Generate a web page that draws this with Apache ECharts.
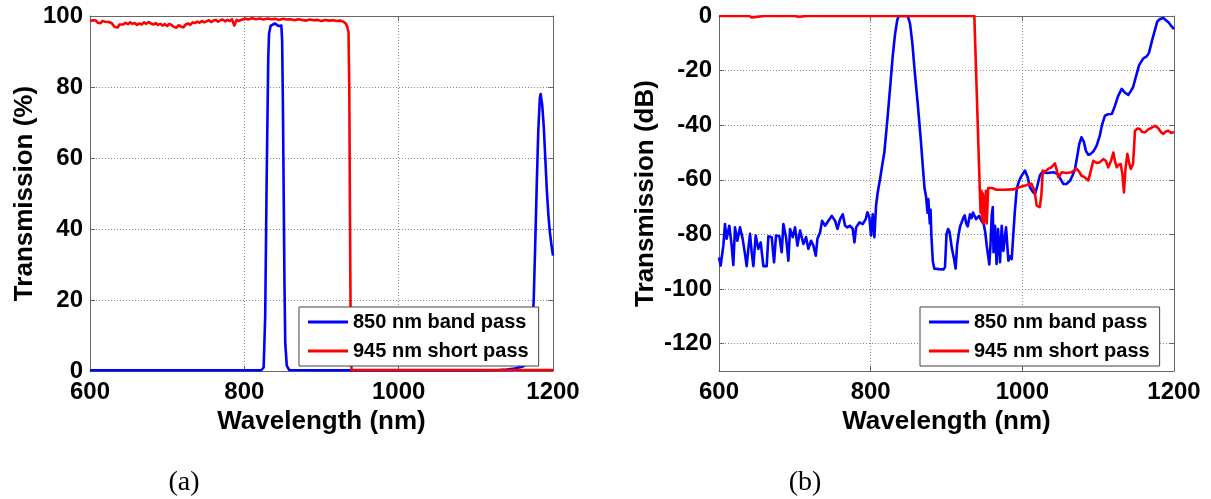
<!DOCTYPE html>
<html>
<head>
<meta charset="utf-8">
<script src="https://cdn.jsdelivr.net/npm/echarts@6/dist/echarts.min.js"></script>
<style>
  html, body { margin: 0; padding: 0; background: #fff; }
  #chart { width: 1211px; height: 499px; }
</style>
</head>
<body>
<div id="chart"></div>
<script>
// ---- data -------------------------------------------------------------
const seriesNames = ['850 nm band pass', '945 nm short pass'];
const panelLabels = ['(a)', '(b)'];
const xTitle = 'Wavelength (nm)';
const yTitles = ['Transmission (%)', 'Transmission (dB)'];
const wavelengthTicks = [600, 800, 1000, 1200];
const percentTicks = [0, 20, 40, 60, 80, 100];
const dbRange = [-130, 0];

// 850 nm band-pass filter, linear transmission [nm, %]
const bandPassPct = [
  [600,0.2],[700,0.2],[800,0.2],[822,0.2],[825,1],[827,15],[829,55],[831,88],[832,95],
  [834,97.2],[837,97.6],[840,97.9],[842,97.4],[844,97.2],[846,97.6],[848,97.3],[849,93],
  [850,75],[851,50],[852,25],[853,8],[855,1.5],[858,0.3],[900,0.2],[1000,0.2],[1100,0.2],
  [1130,0.3],[1140,0.4],[1150,0.7],[1160,1.2],[1165,1.8],[1168,2.6],[1170,3.5],[1172,8],
  [1175,20],[1177,36],[1179,53],[1181,68],[1183,77],[1184,78],[1186,75],[1188,69],
  [1190,60],[1192,51],[1194,44],[1196,39],[1198,35.5],[1200,32.5]
];

// 945 nm short-pass filter, linear transmission [nm, %]
const shortPassPct = [
  [600,98.6],[602,98.2],[604,98.8],[606,98.3],[608,98.7],[610,98.1],[612,98.5],[614,98.0],
  [616,98.6],[618,98.2],[620,98.4],[622,97.9],[624,98.3],[626,97.8],[628,98.0],[630,97.5],
  [632,96.9],[634,96.4],[636,96.8],[638,97.6],[640,98.0],[643,97.6],[646,98.1],[649,97.7],
  [652,98.2],[655,97.8],[658,98.0],[661,97.5],[664,97.9],[667,97.6],[670,98.2],[673,97.8],
  [676,98.3],[679,97.9],[682,97.6],[685,98.0],[688,97.5],[691,97.8],[694,97.3],[697,97.7],
  [700,97.2],[703,97.8],[706,97.4],[709,96.9],[712,96.7],[715,97.4],[718,97.0],[721,96.8],
  [724,97.6],[727,97.9],[730,97.5],[733,98.2],[736,98.0],[739,98.4],[742,98.1],[745,98.6],
  [748,98.2],[751,98.5],[754,98.8],[757,98.3],[760,98.7],[763,98.9],[766,98.4],[769,98.8],
  [772,99.0],[775,98.5],[778,98.9],[781,98.6],[784,99.1],[787,97.3],[790,98.9],[793,98.6],
  [796,98.9],[798,99.1],[801,99.3],[805,99.0],[810,99.4],[815,99.1],[820,99.3],[825,99.0],
  [830,99.3],[835,99.1],[840,99.2],[845,98.9],[850,99.2],[855,99.0],[860,99.1],[865,98.8],
  [870,99.1],[875,98.9],[880,98.7],[885,99.0],[890,98.8],[895,98.9],[900,98.6],[905,98.9],
  [910,98.7],[915,98.8],[920,98.6],[925,98.7],[928,98.4],[931,98.0],[933,97.2],[935,95.5],
  [936,80],[937,40],[938,5],[939,0.3],[1200,0.3]
];

// 850 nm band-pass filter, transmission in dB [nm, dB]
const bandPassDb = [
  [600,-88.4],[602.2,-91.4],[605.7,-84.1],[607.9,-76.2],[610.1,-81.6],[613.6,-76.8],
  [616.7,-84.1],[618.9,-91.2],[621.1,-77.4],[624.2,-82.3],[627.7,-77.4],[631.2,-81.6],
  [634.3,-87.2],[636.5,-91.6],[638.7,-85.3],[640.9,-79.8],[643.1,-86.5],[645.3,-91.6],
  [648.4,-80.4],[651.9,-85.3],[655,-82.9],[658.5,-91.6],[662.9,-91.6],[665.1,-80.7],
  [669.5,-81.0],[672.6,-90.2],[675.2,-80.4],[679.6,-80.7],[682.7,-86.5],[684.9,-76.2],
  [688.4,-81.0],[691.5,-89.6],[693.7,-78.0],[697.2,-81.0],[700.3,-77.4],[703.4,-84.1],
  [706.9,-78.6],[711.3,-83.5],[714.8,-81.0],[717.9,-85.3],[721.4,-82.3],[724.5,-84.1],
  [727.6,-87.8],[729.8,-81.6],[733.3,-79.2],[736,-75.0],[739.9,-76.8],[744.3,-75.0],
  [748.7,-73.2],[753.1,-75.0],[756.2,-78.0],[759.7,-74.4],[763.2,-72.6],[766.3,-76.8],
  [769.3,-77.4],[772.9,-76.8],[776.4,-78.0],[778.6,-82.9],[780.8,-77.4],[785.2,-75.6],
  [789.5,-76.2],[793.5,-74.4],[795.7,-71.9],[798.3,-73.7],[800.5,-80.4],[802.7,-72.6],
  [804.9,-81.0],[807.1,-69.4],[809.3,-64.6],[812.4,-59.7],[815,-55],[818,-50],[822,-38],
  [826,-25],[829,-15],[832,-7],[835,-1.5],[837,0],[849,0],[852,-3],[855,-10],[858,-20],
  [862,-32],[866,-45],[869,-56],[871,-63],[873,-66],[875,-72],[876,-67],[878,-76],
  [879,-71],[880,-80],[882,-90],[884,-92.5],[890,-92.7],[896,-92.8],[898,-92],[900,-80],
  [902,-78],[904,-79],[907,-85],[910,-89],[912,-92.5],[914,-84],[916,-80],[918,-77],
  [920,-75.6],[922,-74],[924,-73],[926,-76],[928,-77],[931,-72.6],[933,-74],[935,-72],
  [937,-71.5],[939,-74.4],[941,-74],[943,-73.2],[946,-75],[949,-76.2],[951,-79],[953,-84],
  [955,-88],[956.5,-91],[958,-84],[959.6,-73],[961,-70],[962,-86.5],[964,-76.8],[966,-90.8],
  [968,-78],[970.6,-90.2],[972.8,-76.8],[975,-86],[978.5,-77.4],[981.6,-89.6],[984,-88],
  [986,-89],[988,-80.4],[990,-72],[992.6,-63.3],[995,-61],[998,-59],[1003.5,-56.6],
  [1007,-59],[1010,-62.7],[1014,-64.5],[1016.7,-65.2],[1020,-62],[1023,-58.5],[1026,-57.2],
  [1033,-57.5],[1041,-57.2],[1047,-58],[1051,-60],[1054,-61.5],[1058,-61.5],[1063,-60.3],
  [1066,-58.5],[1069.5,-56],[1072,-52],[1075,-47],[1078,-44.4],[1081,-46],[1084,-49.5],
  [1087,-50.8],[1090,-50.5],[1094,-49.5],[1098,-47.5],[1102,-44],[1105,-40],[1109,-36.5],
  [1113,-36],[1118,-35.9],[1122,-33],[1126,-29.5],[1131,-26.7],[1135,-28],[1139.8,-28.9],
  [1143,-27.5],[1146,-26.1],[1150,-22],[1154,-18],[1159.6,-15.5],[1164,-14.8],[1167,-13.5],
  [1171,-9],[1175,-5],[1178,-2],[1181.6,-1.1],[1184,-0.6],[1186,-0.7],[1189,-1.5],
  [1192.6,-2.3],[1196,-3.5],[1200,-4.8]
];

// 945 nm short-pass filter, transmission in dB [nm, dB]
const shortPassDb = [
  [600,0],[611,0],[612,-0.5],[613,0],[637,0],[638,-0.4],[640,0],[643,-0.5],[645,0],
  [660,0],[661,-0.4],[662,0],[697,0],[698,-0.5],[700,0],[705,-0.3],[707,0],[716,0],
  [717,-0.5],[719,0],[785,0],[786,-0.4],[787,0],[936.7,0],[938,-11.5],[940,-29],[942,-47],
  [944,-64.5],[945,-72],[946,-64],[947,-75],[948,-65],[949,-76],[950,-66],[951,-75],
  [952,-64],[953,-76],[954,-70],[955,-63],[956,-62.7],[960,-63],[966,-63.6],[975,-63.6],
  [988,-63.5],[997,-62.6],[1005,-62],[1012,-61.4],[1016,-64],[1019,-69.4],[1023,-70],
  [1025,-66],[1027,-56.6],[1030,-57],[1034,-56],[1038,-55.5],[1043,-54],[1045,-56],
  [1047.5,-59],[1050,-58],[1052,-57.2],[1058,-57.5],[1065,-57.2],[1071.7,-56],[1075,-57],
  [1078,-58.5],[1082,-59],[1087,-60.3],[1090,-57],[1093.6,-53],[1098,-53.8],[1102,-53.6],
  [1106.8,-52.4],[1110,-53],[1113.4,-55.4],[1117,-53],[1120,-50],[1122,-53],[1124.5,-55.4],
  [1127,-54.5],[1129.7,-54.2],[1132,-58],[1134,-64.6],[1136,-56],[1138.5,-50.5],[1141,-54],
  [1143,-56],[1146,-54.2],[1148.6,-42],[1152,-41.2],[1155,-41.4],[1158,-42.5],[1161.8,-42.6],
  [1166,-41.5],[1170,-41],[1175,-40.2],[1179,-41],[1183,-42.6],[1186,-43.2],[1189,-42.3],
  [1192.6,-42],[1196,-42.8],[1200,-42.6]
];

// ---- styling ----------------------------------------------------------
const SANS = '"Liberation Sans", Arial, Helvetica, sans-serif';
const FRAME = '#666';
const GRID_LINE = { show: true, lineStyle: { color: '#8a8a8a', width: 1, type: [1, 2] } };
const BLUE = '#0000ff';
const RED = '#ff0000';

const plainNumber = function (v) { return String(v); };
const tickLabel = { color: '#000', fontFamily: SANS, fontWeight: 'bold', fontSize: 24, formatter: plainNumber };
const titleText = { color: '#000', fontFamily: SANS, fontWeight: 'bold', fontSize: 26 };

const grids = [
  { left: 90, top: 16, width: 463, height: 355 },
  { left: 719, top: 16, width: 455, height: 355 }
];

function frameAxis(base) {
  return Object.assign({
    axisLine: { show: true, onZero: false, lineStyle: { color: FRAME, width: 1 } },
    axisTick: { show: true, inside: true, length: 5, lineStyle: { color: FRAME } },
    axisLabel: { show: false },
    splitLine: { show: false }
  }, base);
}

const xStep = wavelengthTicks[1] - wavelengthTicks[0];
const xAxes = [];
const yAxes = [];
[0, 1].forEach(function (g) {
  const xBase = {
    type: 'value', gridIndex: g,
    min: wavelengthTicks[0], max: wavelengthTicks[wavelengthTicks.length - 1], interval: xStep
  };
  xAxes.push(frameAxis(Object.assign({}, xBase, {
    position: 'bottom',
    axisLabel: Object.assign({ show: true, margin: 9 }, tickLabel),
    splitLine: GRID_LINE,
    name: xTitle, nameLocation: 'middle', nameGap: 34, nameTextStyle: titleText
  })));
  xAxes.push(frameAxis(Object.assign({}, xBase, { position: 'top' })));
});

// linear panel
const yLinBase = {
  type: 'value', gridIndex: 0,
  min: percentTicks[0], max: percentTicks[percentTicks.length - 1],
  interval: percentTicks[1] - percentTicks[0]
};
yAxes.push(frameAxis(Object.assign({}, yLinBase, {
  position: 'left',
  axisLabel: Object.assign({ show: true, margin: 7 }, tickLabel),
  splitLine: GRID_LINE,
  name: yTitles[0], nameLocation: 'middle', nameGap: 52, nameTextStyle: titleText
})));
yAxes.push(frameAxis(Object.assign({}, yLinBase, { position: 'right' })));

// dB panel: ticks every 20 dB, axis bottom at -130 dB
const yDbBase = { type: 'value', gridIndex: 1, min: dbRange[0], max: dbRange[1], splitNumber: 6 };
yAxes.push(frameAxis(Object.assign({}, yDbBase, {
  position: 'left',
  axisLabel: Object.assign({ show: true, margin: 7, showMinLabel: false }, tickLabel),
  splitLine: GRID_LINE,
  name: yTitles[1], nameLocation: 'middle', nameGap: 60, nameTextStyle: titleText
})));
yAxes.push(frameAxis(Object.assign({}, yDbBase, { position: 'right' })));

function lineSeries(name, color, data, xi, yi) {
  return {
    type: 'line', name: name, data: data,
    xAxisIndex: xi, yAxisIndex: yi,
    showSymbol: false, symbol: 'none', clip: true,
    lineStyle: { color: color, width: 2.6, join: 'round' },
    itemStyle: { color: color },
    z: 3
  };
}

function legendAt(left) {
  return {
    data: seriesNames, orient: 'vertical', left: left, top: 307,
    padding: [3, 10, 3, 9], itemGap: 5, itemWidth: 40, itemHeight: 3, icon: 'rect',
    backgroundColor: '#fff', borderColor: '#444', borderWidth: 1, borderRadius: 0,
    selectedMode: false, z: 10,
    textStyle: { color: '#000', fontFamily: SANS, fontWeight: 'bold', fontSize: 20, lineHeight: 24 }
  };
}

const option = {
  animation: false,
  backgroundColor: '#fff',
  grid: grids.map(function (g) { return Object.assign({ outerBoundsMode: 'none' }, g); }),
  xAxis: xAxes,
  yAxis: yAxes,
  legend: [legendAt(299), legendAt(920)],
  series: [
    lineSeries(seriesNames[0], BLUE, bandPassPct, 0, 0),
    lineSeries(seriesNames[1], RED, shortPassPct, 0, 0),
    lineSeries(seriesNames[0], BLUE, bandPassDb, 2, 2),
    lineSeries(seriesNames[1], RED, shortPassDb, 2, 2)
  ],
  graphic: [
    { type: 'text', x: 184, y: 483,
      style: { text: panelLabels[0], align: 'center', verticalAlign: 'middle',
               font: '28px "Liberation Serif", "Times New Roman", serif', fill: '#000' } },
    { type: 'text', x: 805, y: 483,
      style: { text: panelLabels[1], align: 'center', verticalAlign: 'middle',
               font: '28px "Liberation Serif", "Times New Roman", serif', fill: '#000' } }
  ]
};

const chart = echarts.init(document.getElementById('chart'), null, { renderer: 'canvas' });
chart.setOption(option);
</script>
</body>
</html>
